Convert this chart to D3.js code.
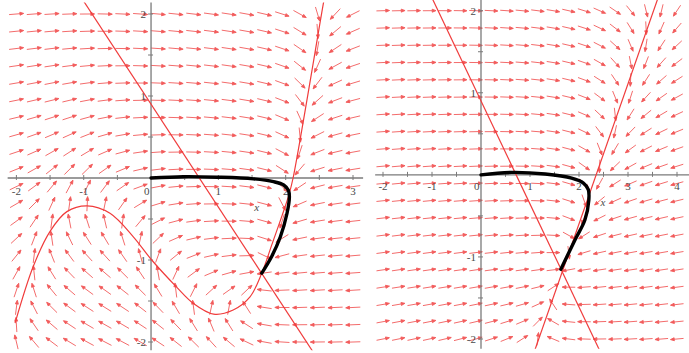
<!DOCTYPE html>
<html>
<head>
<meta charset="utf-8">
<script src="https://cdn.jsdelivr.net/npm/d3@7"></script>
<style>
  html, body { margin: 0; padding: 0; background: #fff; }
  svg { display: block; }
</style>
</head>
<body>
<script>
// direction field grid (20 x 20 points over the plotted range)
const gridCount = 20;
const leftXRange = [-2, 3];
const rightXRange = [-2, 4];
const yRange = [-2, 2];

// tick labels
const leftXTicks = [-2, -1, 0, 1, 2, 3];
const rightXTicks = [-2, -1, 0, 1, 2, 3, 4];
const yTicks = [-2, -1, 1, 2];

// y-nullcline: the same straight line in both panels
const yNullcline = [[-1.115, 2.3], [2.549, -2.3]];

// x-nullcline of the left panel
const leftXNullcline = [
  [-2.02, -1.77], [-1.75, -1.08], [-1.5, -0.65], [-1.25, -0.41], [-0.95, -0.34],
  [-0.61, -0.43], [-0.26, -0.72], [0.01, -1.0], [0.38, -1.33], [0.63, -1.53],
  [0.93, -1.66], [1.22, -1.61], [1.47, -1.45], [1.645, -1.16], [1.8, -0.8],
  [1.95, -0.45], [2.05, -0.2], [2.11, 0.0], [2.56, 2.13], [2.62, 2.4]
];

// x-nullcline of the right panel (straight line)
const rightXNullcline = [[1.032, -2.25], [3.668, 2.25]];

// trajectories starting at the origin
const leftTrajectory = [
  [0, 0], [0.48, 0.016], [0.98, 0.01], [1.52, -0.01], [1.82, -0.045], [1.97, -0.085],
  [2.04, -0.15], [2.055, -0.23], [2.02, -0.43], [1.92, -0.72], [1.79, -0.96], [1.645, -1.16]
];
const rightTrajectory = [
  [0, 0], [0.63, 0.03], [1.31, 0.01], [1.85, -0.04], [2.09, -0.1], [2.19, -0.18],
  [2.2, -0.31], [2.12, -0.55], [1.92, -0.79], [1.63, -1.15]
];

// rates used to turn the nullclines into a field
const yRate = 0.18;
const rightXRate = 1.5;

const width = 689, height = 353;
const red = "#f03c3c";
const arrowRed = "#f25a5a";
const axisColor = "#7a7a7a";
const labelColor = "#4a4a4a";

const svg = d3.select("body").append("svg")
  .attr("width", width)
  .attr("height", height)
  .attr("viewBox", [0, 0, width, height]);

// piecewise linear y = f(x) through a list of points, extended at both ends
function lineFn(points) {
  return function (x) {
    let i = 0;
    while (i < points.length - 2 && x > points[i + 1][0]) i++;
    const [x0, y0] = points[i], [x1, y1] = points[i + 1];
    return y0 + (y1 - y0) * (x - x0) / (x1 - x0);
  };
}

const yNull = lineFn(yNullcline);

function drawPanel(opt) {
  const x = d3.scaleLinear().domain(opt.xRange).range(opt.xPx);
  const y = d3.scaleLinear().domain(yRange).range(opt.yPx);
  const sx = Math.abs(x(1) - x(0)), sy = Math.abs(y(1) - y(0));

  const g = svg.append("g").attr("class", opt.name);

  const clipId = "clip-" + opt.name;
  g.append("clipPath").attr("id", clipId)
    .append("rect")
    .attr("x", x(opt.clipX[0]))
    .attr("y", y(opt.clipY[1]))
    .attr("width", x(opt.clipX[1]) - x(opt.clipX[0]))
    .attr("height", y(opt.clipY[0]) - y(opt.clipY[1]));

  // direction field
  const xs = d3.range(gridCount).map(i => opt.xRange[0] + i * (opt.xRange[1] - opt.xRange[0]) / (gridCount - 1));
  const ys = d3.range(gridCount).map(i => yRange[0] + i * (yRange[1] - yRange[0]) / (gridCount - 1));
  const cells = d3.cross(xs, ys);
  const len = 0.85 * Math.min(x(xs[1]) - x(xs[0]), y(ys[0]) - y(ys[1]));
  const head = 3.8, half = 1.5;

  g.append("g")
    .attr("stroke", arrowRed)
    .attr("fill", arrowRed)
    .attr("stroke-width", 0.9)
    .selectAll("path")
    .data(cells)
    .join("path")
    .attr("d", ([cx, cy]) => {
      const [fx, fy] = opt.field(cx, cy);
      let dx = fx * sx, dy = -fy * sy;
      const n = Math.hypot(dx, dy) || 1;
      dx /= n; dy /= n;
      const px = x(cx), py = y(cy);
      const tx = px - dx * len / 2, ty = py - dy * len / 2;
      const hx = px + dx * len / 2, hy = py + dy * len / 2;
      const bx = hx - dx * head, by = hy - dy * head;
      return `M${tx},${ty}L${bx},${by}` +
        `M${hx},${hy}L${bx - dy * half},${by + dx * half}L${bx + dy * half},${by - dx * half}Z`;
    });

  // axes
  const ax = g.append("g").attr("stroke", axisColor).attr("stroke-width", 1.3);
  ax.append("line")
    .attr("x1", x(opt.clipX[0])).attr("x2", x(opt.clipX[1]))
    .attr("y1", y(0)).attr("y2", y(0));
  ax.append("line")
    .attr("x1", x(0)).attr("x2", x(0))
    .attr("y1", y(opt.clipY[1])).attr("y2", y(opt.clipY[0]));

  const xMinor = d3.range(opt.xRange[0], opt.xRange[1] + 0.01, 0.5);
  const yMinor = d3.range(yRange[0], yRange[1] + 0.01, 0.5).filter(v => v !== 0);
  ax.selectAll(".xt").data(xMinor.filter(v => v !== 0)).join("line")
    .attr("x1", d => x(d)).attr("x2", d => x(d))
    .attr("y1", y(0) - 3).attr("y2", y(0) + 2)
    .attr("stroke-width", 1);
  ax.selectAll(".yt").data(yMinor).join("line")
    .attr("x1", x(0) - 3).attr("x2", x(0) + 2)
    .attr("y1", d => y(d)).attr("y2", d => y(d))
    .attr("stroke-width", 1);

  const labels = g.append("g")
    .attr("font-family", "'Liberation Serif', 'DejaVu Serif', serif")
    .attr("font-size", 11)
    .attr("fill", labelColor);

  labels.selectAll(".xl").data(opt.xTicks).join("text")
    .attr("x", d => d === 0 ? x(0) - 1.5 : x(d))
    .attr("y", y(0) + opt.xLabelDy)
    .attr("text-anchor", d => d === 0 ? "end" : "middle")
    .text(d => d < 0 ? "-" + Math.abs(d) : d);

  labels.selectAll(".yl").data(yTicks).join("text")
    .attr("x", x(0) - 5)
    .attr("y", d => y(d))
    .attr("dy", "0.35em")
    .attr("text-anchor", "end")
    .text(d => d < 0 ? "-" + Math.abs(d) : d);

  labels.append("text")
    .attr("x", x(opt.xLabel[0]))
    .attr("y", y(opt.xLabel[1]))
    .attr("dy", "0.35em")
    .attr("text-anchor", "middle")
    .attr("font-style", "italic")
    .text("x");

  // nullclines and trajectory
  const line = d3.line().x(d => x(d[0])).y(d => y(d[1])).curve(d3.curveCatmullRom);
  const curves = g.append("g").attr("clip-path", `url(#${clipId})`).attr("fill", "none");
  curves.append("path").attr("d", line(yNullcline))
    .attr("stroke", red).attr("stroke-width", 1.2);
  curves.append("path").attr("d", line(opt.xNull))
    .attr("stroke", red).attr("stroke-width", 1.2);
  curves.append("path").attr("d", line(opt.trajectory))
    .attr("stroke", "#000").attr("stroke-width", 3.4)
    .attr("stroke-linecap", "round").attr("stroke-linejoin", "round");
}

const leftG = lineFn(leftXNullcline);
drawPanel({
  name: "left",
  xRange: leftXRange,
  xPx: [16.4, 353],
  yPx: [342, 14],
  clipX: [-2.13, 3.15],
  clipY: [-2.1, 2.14],
  xTicks: leftXTicks,
  xLabelDy: 17,
  xLabel: [1.57, -0.35],
  xNull: leftXNullcline,
  trajectory: leftTrajectory,
  field: (px, py) => [py - leftG(px), yRate * (yNull(px) - py)]
});

const rightG = lineFn(rightXNullcline);
drawPanel({
  name: "right",
  xRange: rightXRange,
  xPx: [383, 677],
  yPx: [339, 10.7],
  clipX: [-2.16, 4.3],
  clipY: [-2.12, 2.13],
  xTicks: rightXTicks,
  xLabelDy: 15,
  xLabel: [2.49, -0.33],
  xNull: rightXNullcline,
  trajectory: rightTrajectory,
  field: (px, py) => [rightXRate * (py - rightG(px)), yRate * (yNull(px) - py)]
});
</script>
</body>
</html>
